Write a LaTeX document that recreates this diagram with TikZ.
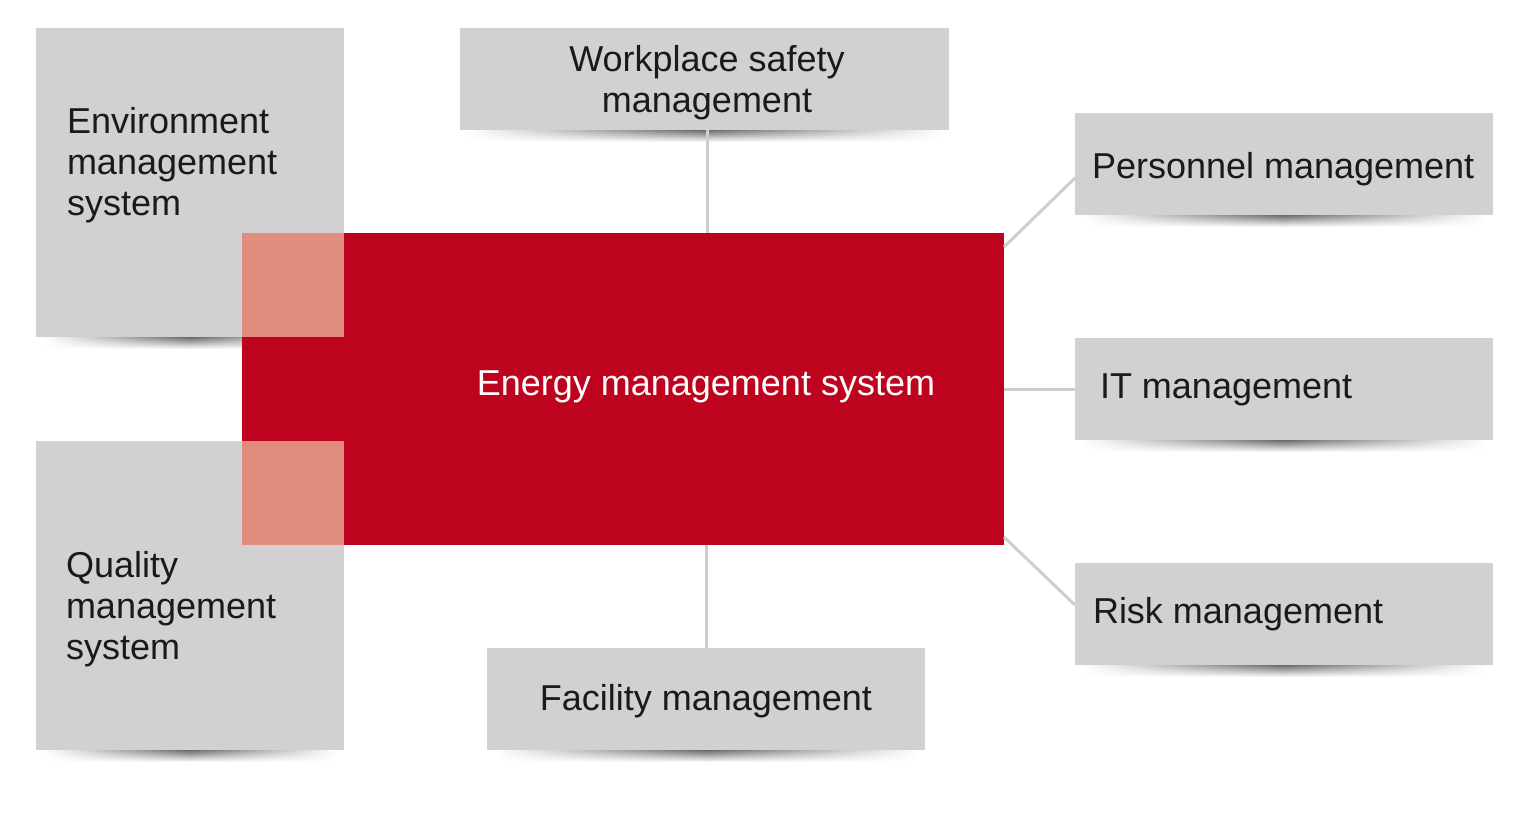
\documentclass[tikz,border=0pt]{standalone}
\usepackage{fontspec}
\setmainfont{Liberation Sans}
\usetikzlibrary{fadings}

\definecolor{boxgray}{HTML}{D2D0D3}
\definecolor{energyred}{HTML}{BE031E}
\definecolor{overlappink}{HTML}{E08D7E}
\definecolor{linkgray}{HTML}{CFCDD0}
\definecolor{textblack}{HTML}{1A1A1A}

\tikzfading[name=sidefade, left color=transparent!100, right color=transparent!100, middle color=transparent!10]

\begin{document}
\begin{tikzpicture}[x=0.5pt, y=-0.5pt, every node/.style={inner sep=0pt, outer sep=0pt}, mgmtbox/.style={fill=boxgray, minimum height=51pt}, bigbox/.style={fill=boxgray, minimum width=154pt, minimum height=154.5pt}, boxtext/.style={text=textblack, font=\fontsize{18}{20.5}\selectfont}, link/.style={draw=linkgray, line width=1.5pt}]
\useasboundingbox (0,0) rectangle (1532,814);
% outer systems
\node[bigbox] (env) at (190,182.5) {};
\node[bigbox] (quality) at (190,595.5) {};
\node[mgmtbox, minimum width=244.5pt] (safety) at (704.5,79) {};
\node[mgmtbox, minimum width=219pt] (facility) at (706,699) {};
\node[mgmtbox, minimum width=209pt] (personnel) at (1284,164) {};
\node[mgmtbox, minimum width=209pt] (it) at (1284,389) {};
\node[mgmtbox, minimum width=209pt] (risk) at (1284,614) {};
% shadows
\foreach \b in {env,quality,safety,facility,personnel,it,risk}
    \shade[top color=black!65, bottom color=white, path fading=sidefade] ([xshift=4pt]\b.south west) rectangle ([xshift=-4pt,yshift=-6pt]\b.south east);
% core
\node[fill=energyred, minimum width=381pt, minimum height=156pt] (energy) at (623,389) {};
\node[fill=overlappink, minimum width=51pt, minimum height=52pt, anchor=north west] (envoverlap) at (energy.north west) {};
\node[fill=overlappink, minimum width=51pt, minimum height=52pt, anchor=south west] (qualoverlap) at (energy.south west) {};
% links
\draw[link] ([xshift=1.25pt]safety.south) -- ([xshift=1.25pt]safety.south |- energy.north);
\draw[link] (facility.north) -- (facility.north |- energy.south);
\draw[link] (energy.east) -- (it.west);
\draw[link] ([yshift=-7pt]energy.north east) -- ([yshift=-7pt]personnel.west);
\draw[link] ([yshift=4pt]energy.south east) -- ([yshift=4.5pt]risk.west);
% labels
\node[boxtext, text=white] (energylabel) at (706,387) {Energy management system};
\node[boxtext, align=left, anchor=west] (envlabel) at (67,165) {Environment\\management\\system};
\node[boxtext, align=left, anchor=west] (qualitylabel) at (66,609) {Quality\\management\\system};
\node[boxtext, align=center] (safetylabel) at (707,83) {Workplace safety\\management};
\node[boxtext] (facilitylabel) at (706,701) {Facility management};
\node[boxtext, anchor=west] (personnellabel) at (1092,169) {Personnel management};
\node[boxtext, anchor=west] (itlabel) at (1100,390) {IT management};
\node[boxtext, anchor=west] (risklabel) at (1093,614) {Risk management};
\end{tikzpicture}
\end{document}
